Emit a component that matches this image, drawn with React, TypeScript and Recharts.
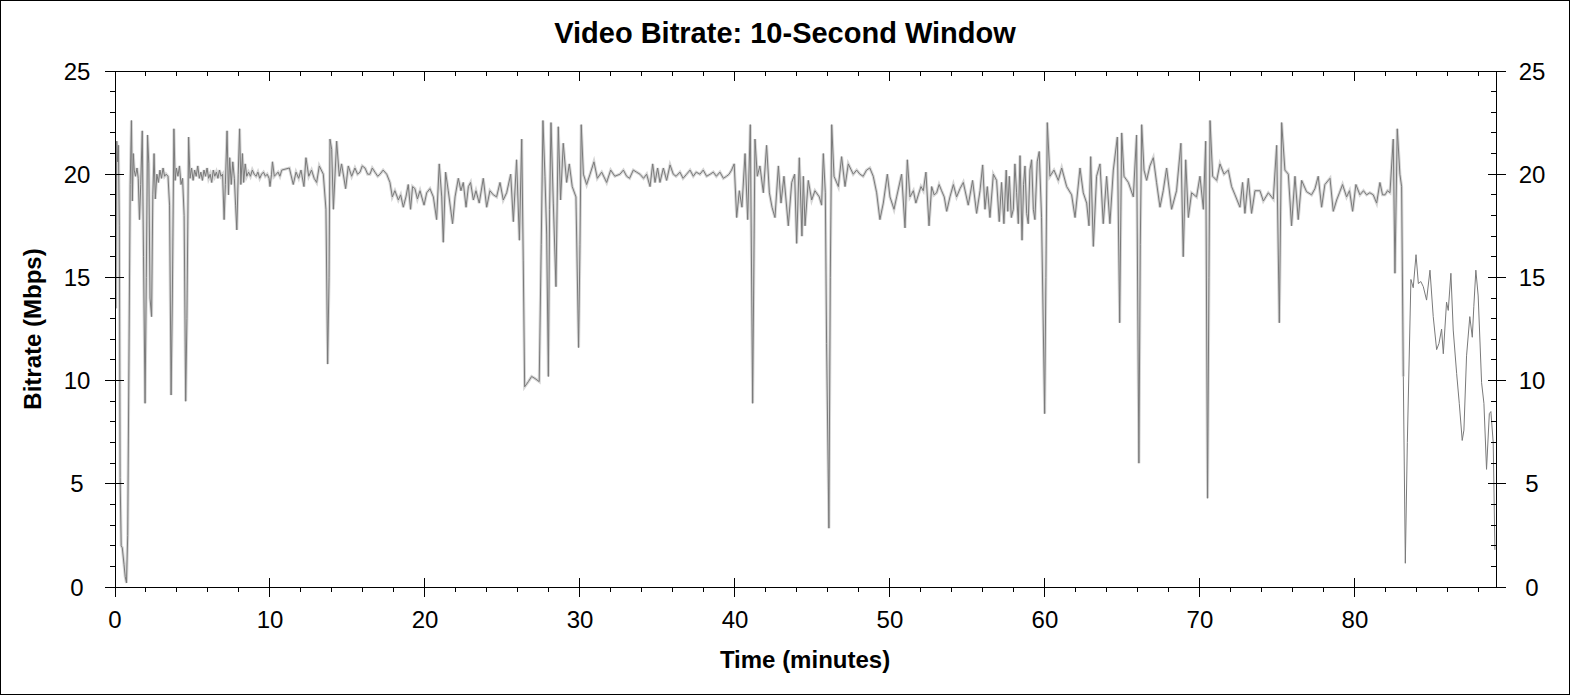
import React from 'react';
import { LineChart, Line, XAxis, YAxis } from 'recharts';

// Time (minutes) of each sampled point
const minutes = [
  0, 0.05, 0.11, 0.17, 0.22, 0.28, 0.33, 0.40, 0.47, 0.58,
  0.66, 0.74, 0.82, 0.90, 0.98, 1.06, 1.12, 1.18, 1.24, 1.32,
  1.42, 1.50, 1.58, 1.66, 1.76, 1.84, 1.94, 2.02, 2.10, 2.18,
  2.26, 2.36, 2.44, 2.52, 2.60, 2.70, 2.80, 2.90, 3.00, 3.10,
  3.20, 3.30, 3.42, 3.52, 3.62, 3.70, 3.80, 3.88, 3.96, 4.06,
  4.16, 4.26, 4.36, 4.46, 4.56, 4.64, 4.75, 4.84, 4.94, 5.04,
  5.14, 5.24, 5.34, 5.44, 5.54, 5.64, 5.74, 5.84, 5.94, 6.04,
  6.14, 6.24, 6.34, 6.44, 6.54, 6.64, 6.74, 6.84, 6.94, 7.04,
  7.12, 7.23, 7.32, 7.40, 7.50, 7.60, 7.70, 7.78, 7.86, 7.95,
  8.04, 8.12, 8.22, 8.30, 8.40, 8.50, 8.62, 8.74, 8.86, 8.98,
  9.10, 9.22, 9.34, 9.46, 9.58, 9.70, 9.82, 9.94, 10.00, 10.10,
  10.16, 10.28, 10.40, 10.52, 10.64, 10.76,
  11.25, 11.5, 11.68, 11.85, 12.0, 12.19, 12.32, 12.5, 12.68, 12.85,
  13.01, 13.18, 13.44, 13.61, 13.72, 13.81, 13.87, 13.98, 14.09, 14.3,
  14.47, 14.62, 14.88, 15.05, 15.27, 15.48, 15.65, 15.81, 15.95, 16.13,
  16.3, 16.45, 16.6, 16.77, 16.95, 17.1, 17.3, 17.53, 17.74, 17.89,
  18.06, 18.28, 18.43, 18.6, 18.77, 18.92, 19.07, 19.2, 19.35, 19.51,
  19.68, 19.94, 20.11, 20.32, 20.54, 20.75, 20.92, 21.08, 21.18, 21.33,
  21.5,
  21.78, 21.94, 22.15, 22.32, 22.47, 22.65, 22.8, 22.94, 23.12, 23.29,
  23.5, 23.76, 23.98, 24.19, 24.41, 24.62, 24.84, 25.05, 25.27, 25.53,
  25.7, 25.91, 26.09, 26.24, 26.34, 26.43, 26.67, 26.88, 27.1, 27.37,
  27.5, 27.61, 27.74, 27.85, 27.96, 28.04, 28.13, 28.28, 28.45, 28.6,
  28.75, 28.92, 29.14, 29.31, 29.5, 29.74, 29.91, 30.0, 30.08, 30.22,
  30.43, 30.65, 30.9, 31.12, 31.4, 31.72, 31.98, 32.25, 32.58,
  32.8, 33.01, 33.2, 33.44, 33.65, 33.87, 34.1, 34.3, 34.52, 34.69,
  34.84, 35.01, 35.16, 35.38, 35.59, 35.81, 36.02, 36.2, 36.45, 36.65,
  36.88, 37.1, 37.31, 37.5, 37.74, 37.95, 38.17, 38.4, 38.6, 38.8,
  39.03, 39.25, 39.46, 39.62, 39.78, 39.95, 40.11, 40.28, 40.45, 40.65,
  40.82, 40.99, 41.14, 41.29, 41.44, 41.61, 41.83, 42.04, 42.22, 42.39,
  42.58, 42.8, 42.97, 43.16, 43.44, 43.66,
  43.85, 43.98, 44.15, 44.32, 44.41, 44.52, 44.73, 44.95, 45.16, 45.44,
  45.59, 45.7, 45.83, 45.91, 46.06, 46.15, 46.24, 46.39, 46.67, 46.88,
  47.1, 47.31, 47.63, 47.85, 48.06, 48.27, 48.49, 48.7, 48.92, 49.14,
  49.35, 49.57, 49.83, 50.0, 50.26, 50.43, 50.75, 50.97, 51.12, 51.29,
  51.51, 51.67, 51.83, 52.0, 52.15, 52.32, 52.52, 52.69, 52.85, 53.01,
  53.17, 53.33, 53.5, 53.66, 53.87, 54.09, 54.3, 54.52, 54.73,
  55.05, 55.33, 55.59, 55.81, 55.98, 56.13, 56.28, 56.45, 56.67, 56.88,
  57.05, 57.2, 57.35, 57.5, 57.6, 57.7, 57.83, 57.96, 58.06, 58.17,
  58.28, 58.39, 58.52, 58.62, 58.71, 58.82, 58.92, 59.03, 59.14, 59.25,
  59.35, 59.5, 59.63, 59.78, 59.98, 60.06, 60.15, 60.32, 60.58, 60.86,
  61.08, 61.4, 61.72, 61.94, 62.26, 62.47, 62.69, 62.84, 62.95, 63.12,
  63.33, 63.55, 63.76, 63.98, 64.19, 64.41, 64.67, 64.82, 64.95, 65.1,
  65.38,
  65.7, 65.91, 66.06, 66.15, 66.24, 66.39, 66.56, 66.77, 66.99, 67.2,
  67.42, 67.63, 67.85, 68.17, 68.49, 68.77, 68.92, 69.08, 69.25, 69.46,
  69.78, 70.0, 70.22, 70.37, 70.49, 70.58, 70.65, 70.82, 71.08, 71.29,
  71.55, 71.83, 72.04, 72.26, 72.58, 72.75, 72.9, 73.12, 73.33, 73.55,
  73.87, 74.09, 74.41, 74.73, 74.95, 75.12, 75.27, 75.48, 75.7, 75.91,
  76.13, 76.34, 76.56,
  76.88, 77.2, 77.42, 77.63, 77.85, 78.06, 78.39, 78.6, 78.82, 79.0,
  79.2, 79.46, 79.65, 79.85, 80.06, 80.32, 80.55, 80.75, 80.96, 81.18,
  81.4, 81.61, 81.78, 81.94, 82.1, 82.26, 82.47, 82.58, 82.73, 82.9,
  83.01, 83.12, 83.25, 83.38, 83.61, 83.76, 83.94, 84.09, 84.25, 84.41,
  84.62, 84.84, 85.05, 85.27, 85.42, 85.59, 85.7, 85.91, 86.02, 86.19,
  86.34, 86.56, 86.73, 86.92, 87.03, 87.2, 87.41, 87.57, 87.67, 87.8,
  87.95, 88.17, 88.32, 88.49, 88.67, 88.77, 88.92, 89.03,
];

// Bitrate (Mbps) at each of the times above
const mbps = [
  21.0, 13.5, 21.6, 20.6, 21.4, 17.5, 5.3, 2.0, 1.9, 1.1,
  0.5, 0.2, 2.5, 11.0, 19.5, 22.6, 18.7, 21.0, 20.2, 19.9,
  20.3, 19.8, 17.8, 19.5, 22.1, 16.0, 8.9, 15.0, 21.9, 20.5,
  14.0, 13.1, 19.0, 21.0, 18.8, 20.0, 19.6, 20.2, 19.8, 20.3,
  19.9, 20.0, 19.9, 18.5, 9.3, 14.0, 22.2, 19.7, 20.3, 19.9,
  20.4, 19.5, 19.8, 18.0, 9.0, 13.0, 21.8, 19.8, 20.3, 19.7,
  20.2, 19.9, 20.4, 19.8, 20.1, 19.7, 20.2, 19.9, 20.3, 19.8,
  20.0, 19.6, 20.2, 19.9, 20.1, 19.8, 20.2, 19.9, 20.0, 17.8,
  19.5, 22.1, 19.0, 20.8, 19.5, 20.6, 19.8, 18.5, 17.3, 20.0,
  22.2, 19.5, 21.0, 19.6, 20.5, 19.9, 20.1, 19.9, 20.2, 20.0,
  19.9, 20.1, 19.8, 20.0, 20.1, 19.9, 20.0, 19.8, 19.4, 20.0,
  20.6, 19.9, 20.0, 20.1, 19.9, 20.2,
  20.3, 19.5, 20.1, 19.8, 20.2, 19.4, 20.8, 19.9, 20.2, 19.8,
  19.6, 20.4, 20.0, 18.3, 10.8, 15.0, 21.7, 21.2, 18.3, 21.6,
  19.9, 20.5, 19.3, 20.4, 19.9, 20.3, 20.0, 20.1, 20.4, 20.3,
  20.0, 20.0, 20.3, 20.1, 19.9, 20.0, 20.2, 20.0, 19.6, 18.9,
  19.2, 18.75, 19.0, 18.4, 18.9, 19.5, 18.3, 19.4, 19.3, 18.8,
  19.2, 18.5, 19.1, 19.3, 18.9, 17.8, 20.5, 18.9, 16.7, 20.1,
  19.2,
  17.6, 18.9, 19.8, 19.2, 19.6, 18.4, 19.4, 19.6, 18.75, 19.2,
  18.6, 19.8, 18.4, 19.2, 19.0, 18.9, 19.6, 18.75, 19.1, 20.0,
  17.7, 20.7, 16.8, 21.7, 15.8, 9.7, 9.95, 10.2, 10.1, 9.95,
  16.6, 22.6, 19.9, 17.1, 10.2, 18.3, 22.5, 18.6, 14.55, 22.3,
  18.75, 21.5, 19.6, 20.5, 19.4, 18.9, 11.6, 16.6, 22.4, 20.0,
  19.5, 20.0, 20.6, 19.8, 20.1, 19.6, 20.2, 19.9, 20.0,
  20.2, 19.9, 19.8, 20.2, 20.1, 20.0, 19.8, 20.0, 19.4, 20.5,
  19.6, 20.3, 19.6, 20.3, 19.7, 20.45, 20.0, 19.9, 20.1, 19.8,
  20.0, 20.2, 19.9, 20.1, 20.0, 20.2, 19.9, 20.0, 20.1, 19.9,
  20.1, 19.8, 19.9, 20.0, 20.2, 20.5, 17.9, 19.2, 18.4, 21.0,
  17.8, 22.4, 8.9, 21.7, 19.9, 20.4, 19.1, 21.4, 19.1, 18.4,
  17.9, 20.4, 18.6, 19.9, 17.5, 19.6,
  20.0, 16.65, 20.8, 17.0, 19.9, 17.5, 19.7, 18.75, 19.2, 18.9,
  18.5, 21.0, 19.1, 11.8, 2.85, 15.0, 22.4, 19.9, 19.4, 20.85,
  19.4, 20.5, 20.0, 20.2, 20.0, 19.9, 20.2, 20.3, 19.9, 19.1,
  17.8, 18.6, 20.0, 18.9, 18.3, 18.9, 20.0, 17.4, 20.7, 18.9,
  19.2, 18.6, 19.0, 19.4, 19.2, 20.1, 17.5, 19.4, 19.0, 19.1,
  19.5, 19.2, 18.9, 18.2, 18.9, 19.5, 18.9, 19.3, 19.6,
  18.5, 19.7, 18.1, 19.2, 20.45, 18.3, 19.4, 17.9, 20.0, 19.7,
  17.7, 19.6, 17.6, 20.2, 18.2, 19.9, 17.9, 18.3, 20.5, 19.1,
  17.6, 20.9, 16.8, 19.5, 20.4, 18.1, 17.6, 20.2, 20.7, 18.3,
  17.8, 20.6, 21.1, 17.9, 8.4, 15.0, 22.5, 19.9, 20.2, 19.7,
  20.3, 19.4, 19.0, 17.9, 20.3, 19.1, 18.6, 17.5, 20.85, 16.5,
  19.9, 20.5, 17.6, 19.9, 17.6, 20.2, 21.8, 12.8, 22.0, 19.9,
  19.6,
  18.9, 21.9, 6.0, 16.6, 22.4, 20.2, 19.7, 20.4, 20.8, 19.6,
  18.4, 19.2, 20.3, 18.3, 19.2, 21.5, 16.0, 20.7, 17.9, 19.1,
  18.9, 19.9, 18.3, 21.6, 4.3, 15.0, 22.6, 19.9, 19.7, 20.5,
  20.0, 20.2, 19.4, 19.0, 18.4, 19.6, 18.1, 19.8, 18.1, 19.2,
  19.2, 18.7, 19.1, 18.8, 21.4, 12.8, 22.5, 20.2, 20.0, 17.5,
  19.9, 17.8, 19.7,
  19.15, 19.0, 19.3, 19.9, 18.4, 19.5, 19.8, 18.2, 18.75, 19.1,
  19.5, 18.9, 19.2, 18.2, 19.5, 19.0, 19.2, 19.0, 19.1, 19.0,
  18.6, 19.6, 19.0, 19.0, 19.2, 19.1, 21.7, 15.2, 22.2, 20.0,
  19.4, 10.2, 1.15, 7.0, 14.9, 14.5, 16.1, 14.7, 14.8, 14.55,
  13.9, 15.35, 13.1, 11.5, 11.8, 12.5, 11.3, 13.8, 13.4, 15.2,
  12.45, 10.35, 8.9, 7.1, 7.6, 11.2, 13.1, 12.1, 13.6, 15.35,
  14.1, 9.9, 8.9, 5.7, 8.4, 8.5, 7.0, 1.8,
];

// tick values (the full lists include the major ones)
const xMajorTicks = [0, 10, 20, 30, 40, 50, 60, 70, 80];
const xAllTicks = [0, 2, 4, 6, 8, 10, 12, 14, 16, 18, 20, 22, 24, 26, 28, 30, 32, 34, 36, 38, 40, 42, 44, 46, 48, 50, 52, 54, 56, 58, 60, 62, 64, 66, 68, 70, 72, 74, 76, 78, 80, 82, 84, 86, 88];
const yMajorTicks = [0, 5, 10, 15, 20, 25];
const yAllTicks = [0, 1, 2, 3, 4, 5, 6, 7, 8, 9, 10, 11, 12, 13, 14, 15, 16, 17, 18, 19, 20, 21, 22, 23, 24, 25];

const title = 'Video Bitrate: 10-Second Window';
const xLabel = 'Time (minutes)';
const yLabel = 'Bitrate (Mbps)';

// the light envelope is only drawn before the closing credits
const envelopeEnd = 83.2;

const data = minutes.map((t, i) => ({
  t,
  v: mbps[i],
  env: t <= envelopeEnd ? mbps[i] : null,
}));

const FONT = 'Arial, "Liberation Sans", Helvetica, sans-serif';
const X_DOMAIN: [number, number] = [0, 89.1];
const Y_DOMAIN: [number, number] = [0, 25];

const isMajorX = (v: number) => xMajorTicks.includes(v);
const isMajorY = (v: number) => yMajorTicks.includes(v);

const BottomTick = (props: any) => {
  const { x, y, payload } = props;
  const v = payload.value;
  if (!isMajorX(v)) {
    return <line x1={x} x2={x} y1={y} y2={y + 5} stroke="#000" shapeRendering="crispEdges" />;
  }
  return (
    <g>
      <line x1={x} x2={x} y1={y - 9} y2={y + 10} stroke="#000" shapeRendering="crispEdges" />
      <text x={x} y={y + 32} dy="0.36em" textAnchor="middle" fontSize={24} fontFamily={FONT} fill="#000">
        {v}
      </text>
    </g>
  );
};

const TopTick = (props: any) => {
  const { x, y, payload } = props;
  const len = isMajorX(payload.value) ? 10 : 5;
  return <line x1={x} x2={x} y1={y} y2={y + len} stroke="#000" shapeRendering="crispEdges" />;
};

const LeftTick = (props: any) => {
  const { x, y, payload } = props;
  const v = payload.value;
  if (!isMajorY(v)) {
    return <line x1={x - 5} x2={x} y1={y} y2={y} stroke="#000" shapeRendering="crispEdges" />;
  }
  return (
    <g>
      <line x1={x - 10} x2={x + 9} y1={y} y2={y} stroke="#000" shapeRendering="crispEdges" />
      <text x={x - 38} y={y} dy="0.36em" textAnchor="middle" fontSize={24} fontFamily={FONT} fill="#000">
        {v}
      </text>
    </g>
  );
};

const RightTick = (props: any) => {
  const { x, y, payload } = props;
  const v = payload.value;
  if (!isMajorY(v)) {
    return <line x1={x - 5} x2={x} y1={y} y2={y} stroke="#000" shapeRendering="crispEdges" />;
  }
  return (
    <g>
      <line x1={x - 8} x2={x + 10} y1={y} y2={y} stroke="#000" shapeRendering="crispEdges" />
      <text x={x + 36} y={y} dy="0.36em" textAnchor="middle" fontSize={24} fontFamily={FONT} fill="#000">
        {v}
      </text>
    </g>
  );
};

const axisLineStyle = { stroke: '#000', strokeWidth: 1, shapeRendering: 'crispEdges' };

export default function App() {
  return (
    <div style={{ position: 'absolute', left: 0, top: 0, width: 1570, height: 695, background: '#fff', overflow: 'hidden' }}>
      <div style={{ position: 'absolute', left: 0, top: 0 }}>
        <LineChart width={1570} height={695} data={data} margin={{ top: 70, right: 73, bottom: 107, left: 114 }}>
          <XAxis xAxisId="x" dataKey="t" type="number" domain={X_DOMAIN} allowDataOverflow ticks={xAllTicks} interval={0}
            orientation="bottom" height={1} tickSize={0} tickMargin={0} tickLine={false} axisLine={axisLineStyle} tick={BottomTick} />
          <XAxis xAxisId="xt" dataKey="t" type="number" domain={X_DOMAIN} allowDataOverflow ticks={xAllTicks} interval={0}
            orientation="top" height={1} tickSize={0} tickMargin={0} tickLine={false} axisLine={axisLineStyle} tick={TopTick} />
          <YAxis yAxisId="y" type="number" domain={Y_DOMAIN} allowDataOverflow ticks={yAllTicks} interval={0}
            orientation="left" width={1} tickSize={0} tickMargin={0} tickLine={false} axisLine={axisLineStyle} tick={LeftTick} />
          <YAxis yAxisId="yr" type="number" domain={Y_DOMAIN} allowDataOverflow ticks={yAllTicks} interval={0}
            orientation="right" width={1} tickSize={0} tickMargin={0} tickLine={false} axisLine={axisLineStyle} tick={RightTick} />

          <Line xAxisId="x" yAxisId="y" type="linear" dataKey="env" stroke="#d6d6d6" strokeWidth={3}
            dot={false} activeDot={false} isAnimationActive={false} connectNulls={false} />
          <Line xAxisId="x" yAxisId="y" type="linear" dataKey="v" stroke="#7a7a7a" strokeWidth={1}
            dot={false} activeDot={false} isAnimationActive={false} />
        </LineChart>
      </div>
      <svg width={1570} height={695} style={{ position: 'absolute', left: 0, top: 0, pointerEvents: 'none' }}>
        <rect x={0.5} y={0.5} width={1569} height={694} fill="none" stroke="#000" strokeWidth={1} />
        <text x={785} y={33} dy="0.36em" textAnchor="middle" fontSize={29} fontWeight="bold" fontFamily={FONT} fill="#000">
          {title}
        </text>
        <text x={805} y={659} dy="0.36em" textAnchor="middle" fontSize={24} fontWeight="bold" fontFamily={FONT} fill="#000">
          {xLabel}
        </text>
        <text x={0} y={0} dy="0.36em" textAnchor="middle" fontSize={24} fontWeight="bold" fontFamily={FONT} fill="#000"
          transform="translate(32 329) rotate(-90)">
          {yLabel}
        </text>
      </svg>
    </div>
  );
}
